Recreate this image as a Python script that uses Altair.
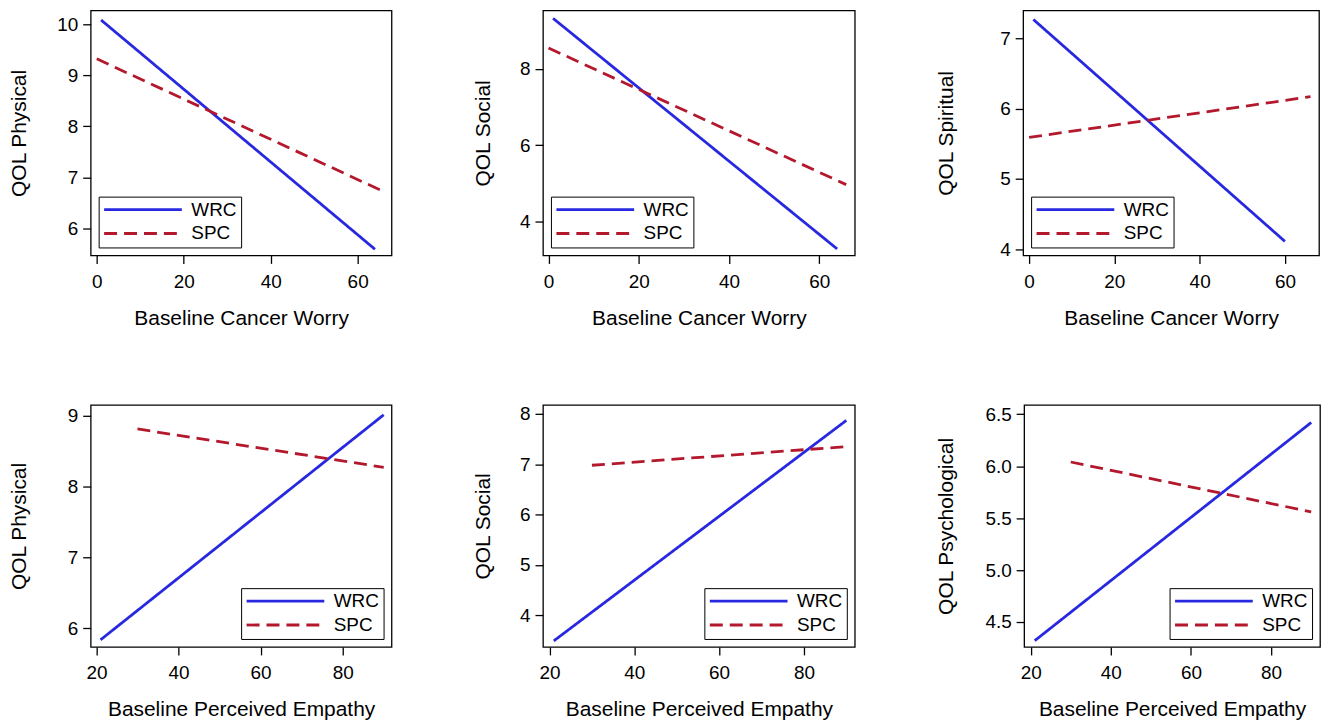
import altair as alt
import pandas as pd

# ---------------- data ----------------
groups = ["WRC", "SPC"]
line_colors = ["#2828e0", "#b3182d"]
dash_patterns = [[1, 0], [13, 7]]

worry_x_wrc = [1, 64]
worry_x_wrc_spiritual = [1, 60]
worry_x_spc = [0, 66]
empathy_x_wrc = [21, 90]
empathy_x_spc = [30, 90]

physical_worry_wrc = [10.08, 5.59]
physical_worry_spc = [9.32, 6.72]
social_worry_wrc = [9.33, 3.27]
social_worry_spc = [8.55, 4.96]
spiritual_worry_wrc = [7.27, 4.11]
spiritual_worry_spc = [5.59, 6.17]

physical_empathy_wrc = [5.84, 9.01]
physical_empathy_spc = [8.81, 8.27]
social_empathy_wrc = [3.49, 7.87]
social_empathy_spc = [6.98, 7.35]
psych_empathy_wrc = [4.32, 6.42]
psych_empathy_spc = [6.04, 5.56]

worry_ticks = [0, 20, 40, 60]
empathy_ticks = [20, 40, 60, 80]
physical_worry_ticks = [6, 7, 8, 9, 10]
social_worry_ticks = [4, 6, 8]
spiritual_worry_ticks = [4, 5, 6, 7]
physical_empathy_ticks = [6, 7, 8, 9]
social_empathy_ticks = [4, 5, 6, 7, 8]
psych_empathy_ticks = [4.5, 5.0, 5.5, 6.0, 6.5]

x_title_worry = "Baseline Cancer Worry"
x_title_empathy = "Baseline Perceived Empathy"

FONT = "Liberation Sans"


def panel(xw, yw, xs, ys, xdom, ydom, xticks, yticks, xtitle, ytitle,
          w, h, title_x, orient, yfmt="d"):
    df = pd.DataFrame({
        "x": list(xw) + list(xs),
        "y": list(yw) + list(ys),
        "group": [groups[0]] * len(xw) + [groups[1]] * len(xs),
    })
    leg = alt.Legend(
        title=None, orient=orient, offset=8,
        symbolType="stroke", symbolSize=6084, symbolStrokeWidth=2.8,
        labelFontSize=19, labelFont=FONT, labelColor="black",
        labelOffset=8, clipHeight=18, rowPadding=5, padding=4,
        strokeColor="black", fillColor="white",
    )
    return alt.Chart(df).mark_line(strokeWidth=2.8, strokeCap="butt").encode(
        x=alt.X("x:Q",
                scale=alt.Scale(domain=xdom, nice=False, zero=False),
                axis=alt.Axis(values=xticks, title=xtitle, format="d",
                              labelPadding=9,
                              titleX=w / 2, titleY=69, titleAlign="center",
                              titleBaseline="alphabetic")),
        y=alt.Y("y:Q",
                scale=alt.Scale(domain=ydom, nice=False, zero=False),
                axis=alt.Axis(values=yticks, title=ytitle, format=yfmt,
                              labelPadding=5,
                              titleX=title_x, titleY=h / 2, titleAngle=270,
                              titleAlign="center", titleBaseline="middle")),
        color=alt.Color("group:N",
                        scale=alt.Scale(domain=groups, range=line_colors),
                        legend=leg),
        strokeDash=alt.StrokeDash("group:N",
                                  scale=alt.Scale(domain=groups, range=dash_patterns),
                                  legend=leg),
    ).properties(width=w, height=h)


p1 = panel(worry_x_wrc, physical_worry_wrc, worry_x_spc, physical_worry_spc,
           [-1.4, 67.8], [5.47, 10.27], worry_ticks, physical_worry_ticks,
           x_title_worry, "QOL Physical", 302, 246, -71, "bottom-left")
p2 = panel(worry_x_wrc, social_worry_wrc, worry_x_spc, social_worry_spc,
           [-1.24, 67.9], [3.10, 9.54], worry_ticks, social_worry_ticks,
           x_title_worry, "QOL Social", 313, 246, -60, "bottom-left")
p3 = panel(worry_x_wrc_spiritual, spiritual_worry_wrc, worry_x_spc, spiritual_worry_spc,
           [-1.4, 68.0], [3.91, 7.40], worry_ticks, spiritual_worry_ticks,
           x_title_worry, "QOL Spiritual", 297, 246, -77, "bottom-left")
p4 = panel(empathy_x_wrc, physical_empathy_wrc, empathy_x_spc, physical_empathy_spc,
           [18.6, 91.9], [5.74, 9.15], empathy_ticks, physical_empathy_ticks,
           x_title_empathy, "QOL Physical", 302, 243, -71, "bottom-right")
p5 = panel(empathy_x_wrc, social_empathy_wrc, empathy_x_spc, social_empathy_spc,
           [18.45, 92.0], [3.37, 8.18], empathy_ticks, social_empathy_ticks,
           x_title_empathy, "QOL Social", 313, 243, -60, "bottom-right")
p6 = panel(empathy_x_wrc, psych_empathy_wrc, empathy_x_spc, psych_empathy_spc,
           [18.36, 92.2], [4.26, 6.59], empathy_ticks, psych_empathy_ticks,
           x_title_empathy, "QOL Psychological", 297, 243, -78, "bottom-right",
           yfmt=".1f")

row1 = alt.hconcat(p1, p2, p3, spacing=79).resolve_scale(
    color="independent", strokeDash="independent").resolve_legend(
    color="independent", strokeDash="independent")
row2 = alt.hconcat(p4, p5, p6, spacing=79).resolve_scale(
    color="independent", strokeDash="independent").resolve_legend(
    color="independent", strokeDash="independent")

chart = alt.vconcat(row1, row2, spacing=75).resolve_scale(
    color="independent", strokeDash="independent").resolve_legend(
    color="independent", strokeDash="independent").properties(
    padding={"left": 0, "top": 0, "right": 0, "bottom": 0},
    background="white",
).configure_view(
    stroke="black", strokeWidth=1.3
).configure_axis(
    domain=False, grid=False, ticks=True, tickSize=8, tickWidth=1.3,
    tickColor="black", labelFont=FONT, labelFontSize=19, labelColor="black",
    labelOverlap=False, titleFont=FONT, titleFontSize=21,
    titleFontWeight="normal", titleColor="black"
)

chart.save("out.html", embed_options={"renderer": "svg", "actions": False})
